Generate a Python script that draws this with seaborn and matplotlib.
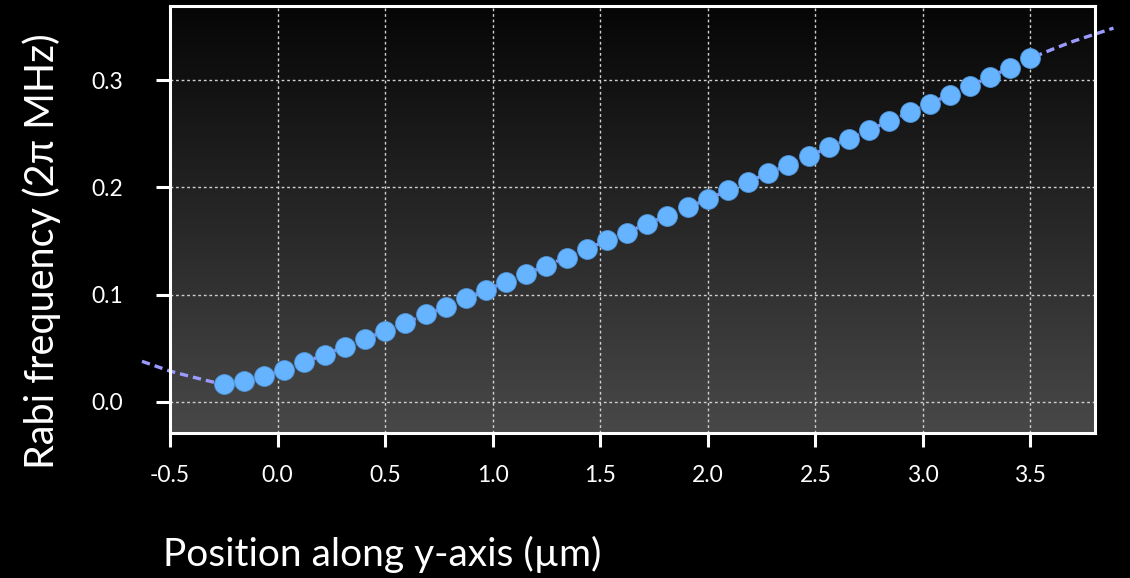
import numpy as np
import matplotlib.pyplot as plt
from matplotlib.colors import LinearSegmentedColormap
import seaborn as sns

# measured points
position = [-0.25, -0.156, -0.062, 0.031, 0.125, 0.219, 0.312, 0.406, 0.5, 0.594,
            0.688, 0.781, 0.875, 0.969, 1.062, 1.156, 1.25, 1.344, 1.438, 1.531,
            1.625, 1.719, 1.812, 1.906, 2.0, 2.094, 2.188, 2.281, 2.375, 2.469,
            2.562, 2.656, 2.75, 2.844, 2.938, 3.031, 3.125, 3.219, 3.312, 3.406, 3.5]
rabi = [0.0165, 0.019, 0.024, 0.030, 0.037, 0.044, 0.0516, 0.059, 0.066, 0.0737,
        0.0818, 0.0887, 0.0966, 0.1043, 0.1116, 0.1193, 0.1271, 0.1343, 0.1428, 0.1505,
        0.1578, 0.1659, 0.1734, 0.1812, 0.189, 0.1972, 0.2053, 0.2131, 0.2212, 0.229,
        0.2375, 0.2453, 0.2534, 0.2616, 0.270, 0.2781, 0.2859, 0.2947, 0.3028, 0.3115, 0.3202]

# dashed fit curve
fit_position = [-0.63, -0.5, -0.4, -0.3, -0.25, -0.156, -0.062, 0.031, 0.125, 0.219,
                0.312, 0.5, 0.75, 1.0, 1.25, 1.5, 1.75, 2.0, 2.25, 2.5, 2.75, 3.0,
                3.25, 3.5, 3.6, 3.7, 3.8, 3.886]
fit_rabi = [0.0378, 0.0287, 0.0234, 0.0185, 0.0168, 0.019, 0.024, 0.030, 0.037, 0.044,
            0.0516, 0.066, 0.0862, 0.1068, 0.1271, 0.1478, 0.1686, 0.189, 0.2105, 0.2317,
            0.2534, 0.2754, 0.2974, 0.3202, 0.3285, 0.3362, 0.3428, 0.3484]

xticks = [-0.5, 0.0, 0.5, 1.0, 1.5, 2.0, 2.5, 3.0, 3.5]
xticklabels = ["-0.5", "0.0", "0.5", "1.0", "1.5", "2.0", "2.5", "3.0", "3.5"]
yticks = [0.0, 0.1, 0.2, 0.3]
yticklabels = ["0.0", "0.1", "0.2", "0.3"]

sns.set_style("ticks")
plt.rcParams['font.family'] = ['Lato', 'DejaVu Sans']

fig = plt.figure(figsize=(11.3, 5.78), dpi=100, facecolor='black')
ax = fig.add_axes([0.1504, 0.2509, 0.8186, 0.7387])
ax.set_facecolor('black')

# vertical gradient background
cmap = LinearSegmentedColormap.from_list('bg', ['#484848', '#060606'])
ax.imshow(np.linspace(0, 1, 256).reshape(-1, 1), cmap=cmap, origin='lower',
          extent=[0, 1, 0, 1], transform=ax.transAxes, aspect='auto', zorder=0)

sns.lineplot(x=fit_position, y=fit_rabi, ax=ax, color='#9b9bff', linewidth=2.4,
             linestyle=(0, (2.5, 1.5)), sort=False, clip_on=False, zorder=2)
sns.scatterplot(x=position, y=rabi, ax=ax, s=205, color='#66b3ff',
                edgecolor='#4f93d6', linewidth=0.6, zorder=3, clip_on=False)

ax.set_xlim(-0.5, 3.8)
ax.set_ylim(-0.029, 0.369)
ax.set_xticks(xticks)
ax.set_xticklabels(xticklabels)
ax.set_yticks(yticks)
ax.set_yticklabels(yticklabels)

ax.grid(True, color='#d0d0d0', linewidth=1, linestyle=(0, (2, 2)))
ax.set_axisbelow(True)

for sp in ax.spines.values():
    sp.set_color('white')
    sp.set_linewidth(2.2)

ax.tick_params(colors='white', labelsize=16.5, length=10, width=2.2, direction='out')
ax.tick_params(axis='x', pad=13)
ax.tick_params(axis='y', pad=24)
ax.set_xlabel('')
ax.set_ylabel('')

fig.text(0.1442, 0.04, 'Position along y-axis (µm)', color='white', fontsize=28,
         ha='left', va='center')
fig.text(0.037, 0.566, 'Rabi frequency (2π MHz)', color='white', fontsize=28.5,
         ha='center', va='center', rotation=90)

fig.savefig('out.png', dpi=100, facecolor='black')
